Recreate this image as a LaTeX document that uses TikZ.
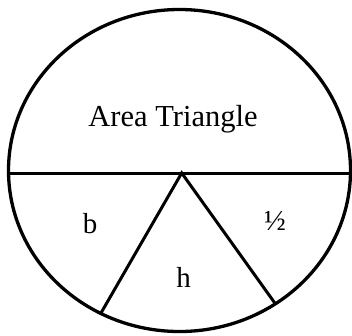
\documentclass[tikz,border=0pt]{standalone}
\usepackage{fontspec}
\setmainfont{Liberation Serif}
\begin{document}
\begin{tikzpicture}[x=1pt,y=-1pt,
  rim/.style={line width=3.3pt},
  divider/.style={line width=3pt},
  lbl/.style={inner sep=0pt, anchor=base, font=\fontsize{30.5}{36}\selectfont},
  small/.style={inner sep=0pt, anchor=base, font=\fontsize{29}{34}\selectfont}]
\useasboundingbox (0,0) rectangle (352,335);
\coordinate (c) at (179.5,170.5);
\draw[rim] (c) ellipse [x radius=171, y radius=161];
\coordinate (L) at (8.6,173);
\coordinate (R) at (350.4,173);
\coordinate (apex) at (181.7,173);
\coordinate (bl) at (100.7,313.5);
\coordinate (br) at (275.5,304);
\draw[divider] (L) -- (R);
\draw[divider] (bl) -- (apex) -- (br);
\node[lbl] (title) at (173,126) {Area Triangle};
\node[small] (b) at (90,233) {b};
\node[small] (h) at (183.5,287) {h};
\node[small] (half) at (275,230) {½};
\end{tikzpicture}
\end{document}
